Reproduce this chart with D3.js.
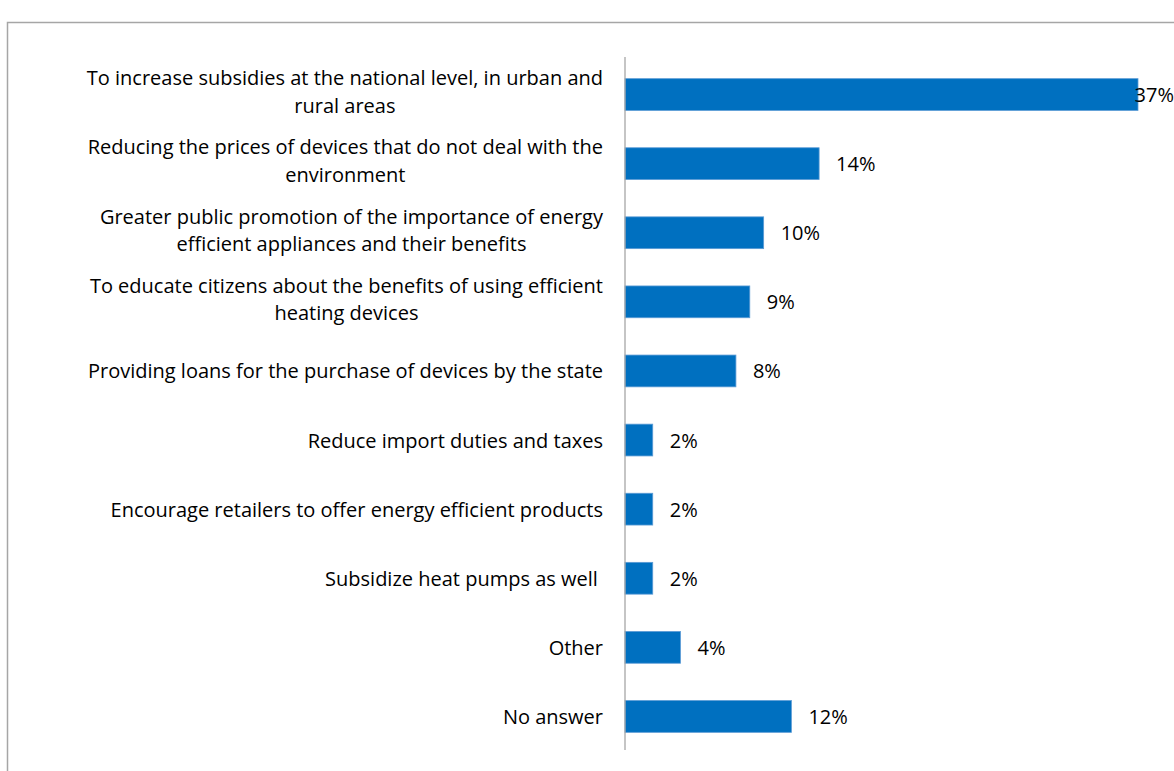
<!DOCTYPE html>
<html>
<head>
<meta charset="utf-8">
<script src="https://cdn.jsdelivr.net/npm/d3@7"></script>
<style>
  html, body { margin: 0; padding: 0; background: #fff; }
  svg { display: block; }
  text { font-family: "Open Sans", Lato, "Liberation Sans", sans-serif; fill: #000; white-space: pre; }
</style>
</head>
<body>
<svg id="chart" width="1174" height="771"></svg>
<script>
// Measures that would encourage purchase of efficient heating devices (share of respondents)
const categories = [
  "To increase subsidies at the national level, in urban and rural areas",
  "Reducing the prices of devices that do not deal with the environment",
  "Greater public promotion of the importance of energy efficient appliances and their benefits",
  "To educate citizens about the benefits of using efficient heating devices",
  "Providing loans for the purchase of devices by the state",
  "Reduce import duties and taxes",
  "Encourage retailers to offer energy efficient products",
  "Subsidize heat pumps as well ",
  "Other",
  "No answer"
];
// Line breaks for the wrapped category names
const labelLines = [
  ["To increase subsidies at the national level, in urban and", "rural areas"],
  ["Reducing the prices of devices that do not deal with the", "environment"],
  ["Greater public promotion of the importance of energy", "efficient appliances and their benefits"],
  ["To educate citizens about the benefits of using efficient", "heating devices"],
  ["Providing loans for the purchase of devices by the state"],
  ["Reduce import duties and taxes"],
  ["Encourage retailers to offer energy efficient products"],
  ["Subsidize heat pumps as well "],
  ["Other"],
  ["No answer"]
];
const values = [37, 14, 10, 9, 8, 2, 2, 2, 4, 12];

const svg = d3.select("#chart");
const W = 1174, H = 771;
const fontSize = 20;

// chart area frame (top and left edges visible)
svg.append("path")
  .attr("d", `M7.5,${H} V22.5 H${W}`)
  .attr("fill", "none")
  .attr("stroke", "#a6a6a6")
  .attr("stroke-width", 1.5);

const x0 = 625;
const x = d3.scaleLinear().domain([0, 37]).range([x0, 1138]);
const y = d3.scaleBand()
  .domain(categories)
  .range([60, 751])
  .paddingInner(0.54)
  .paddingOuter(0.27);

const data = categories.map((c, i) => ({ cat: c, value: values[i], lines: labelLines[i] }));

// bars
svg.append("g").selectAll("rect")
  .data(data)
  .join("rect")
  .attr("x", x(0))
  .attr("y", d => y(d.cat))
  .attr("width", d => x(d.value) - x(0))
  .attr("height", y.bandwidth())
  .attr("fill", "#0070c0")
  .attr("stroke", "#5b9bd5")
  .attr("stroke-width", 0.8);

// vertical category axis line
svg.append("line")
  .attr("x1", x0).attr("x2", x0)
  .attr("y1", 57).attr("y2", 750)
  .attr("stroke", "#a6a6a6")
  .attr("stroke-width", 1.3);

// category labels: wrapped lines centred on each other, block right-aligned to the axis
const labelRight = 603;
const lineH = 27.5;
const labelG = svg.append("g").attr("font-size", fontSize);
data.forEach(d => {
  const cy = y(d.cat) + y.bandwidth() / 2;
  const g = labelG.append("g");
  const texts = d.lines.map((ln, j) =>
    g.append("text")
      .attr("text-anchor", "middle")
      .attr("dominant-baseline", "central")
      .attr("y", cy + (j - (d.lines.length - 1) / 2) * lineH - (d.lines.length > 1 ? 3 : 0))
      .text(ln)
  );
  const widest = d3.max(texts, t => t.node().getComputedTextLength());
  texts.forEach(t => t.attr("x", labelRight - widest / 2));
});

// value labels
const rightLimit = 1174;
svg.append("g").attr("font-size", fontSize)
  .selectAll("text")
  .data(data)
  .join("text")
  .attr("dominant-baseline", "central")
  .attr("y", d => y(d.cat) + y.bandwidth() / 2)
  .text(d => d.value + "%")
  .each(function (d) {
    const w = this.getComputedTextLength();
    d3.select(this).attr("x", Math.min(x(d.value) + 17, rightLimit - w));
  });
</script>
</body>
</html>
